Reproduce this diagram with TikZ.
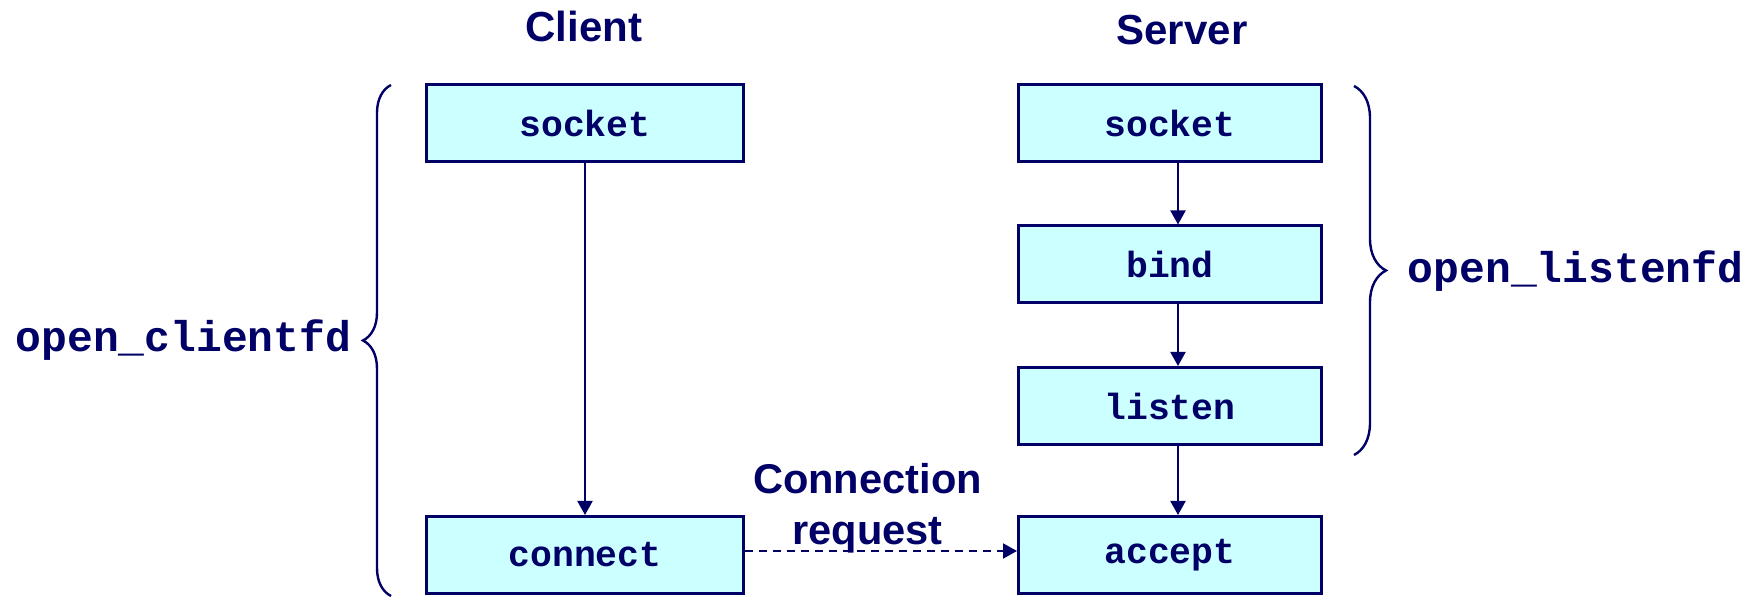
\documentclass[tikz,border=0pt]{standalone}
\usepackage{fontspec}
\setmainfont{Liberation Sans}
\setmonofont{Liberation Mono}
\usetikzlibrary{arrows.meta,decorations.pathreplacing}
\definecolor{navy}{HTML}{000066}
\definecolor{callfill}{HTML}{CCFFFF}

\begin{document}
\begin{tikzpicture}[x=0.25pt, y=-0.25pt,
        call/.style={rectangle, draw=navy, fill=callfill, line width=0.75pt,
            minimum width=75.75pt, minimum height=19.25pt, inner sep=0pt,
            text=navy, font=\fontsize{9.1}{11}\selectfont\ttfamily\bfseries},
        title/.style={text=navy, inner sep=0pt, anchor=base,
            font=\fontsize{10.5}{12.75}\selectfont\bfseries},
        fnname/.style={text=navy, inner sep=0pt,
            font=\fontsize{10.75}{13}\selectfont\ttfamily\bfseries},
        arrow/.style={->, >={Triangle[length=3.5pt,width=3.75pt]}, draw=navy, line width=0.5pt},
        brace/.style={draw=navy, line width=0.6pt, decorate}
    ]
        \useasboundingbox (0,0) rectangle (1750,597);

        % Column titles
        \node[title] (client) at (584,42) {Client};
        \node[title] (server) at (1182,45) {Server};

        % Client side
        \node[call, minimum width=79.25pt] (csocket) at (585,123) {socket};
        \node[call, minimum width=79.25pt] (connect) at (585,555) {connect};

        % Server side
        \node[call] (ssocket) at (1170,123) {socket};
        \node[call] (bind) at (1170,264.5) {bind};
        \node[call] (listen) at (1170,406) {listen};
        \node[call] (accept) at (1170,555) {accept};

        % Calls in order
        \draw[arrow] (csocket) -- (connect);
        \draw[arrow] ([xshift=2pt]ssocket.south) -- ([xshift=2pt]bind.north);
        \draw[arrow] ([xshift=2pt]bind.south) -- ([xshift=2pt]listen.north);
        \draw[arrow] ([xshift=2pt]listen.south) -- ([xshift=2pt]accept.north);

        % Connection request
        \draw[arrow, dash pattern=on 2pt off 1.5pt] ([yshift=1pt]connect.east) -- ([yshift=1pt]accept.west);
        \node[title, anchor=north, align=center, font=\fontsize{10.4}{12.75}\selectfont\bfseries]
            (request) at (867.5,463) {Connection\\request};

        % Helper functions
        \coordinate (cbot) at (391,596);
        \coordinate (ctop) at (391,85);
        \draw[brace, decoration={brace, amplitude=7pt}] (cbot) -- (ctop);
        \node[fnname, anchor=east] (clientfd) at (352,340) {open\_clientfd};

        \coordinate (stop) at (1354,86);
        \coordinate (sbot) at (1354,455);
        \draw[brace, decoration={brace, amplitude=8pt}] (stop) -- (sbot);
        \node[fnname, anchor=west] (listenfd) at (1407,271) {open\_listenfd};
    \end{tikzpicture}
\end{document}
